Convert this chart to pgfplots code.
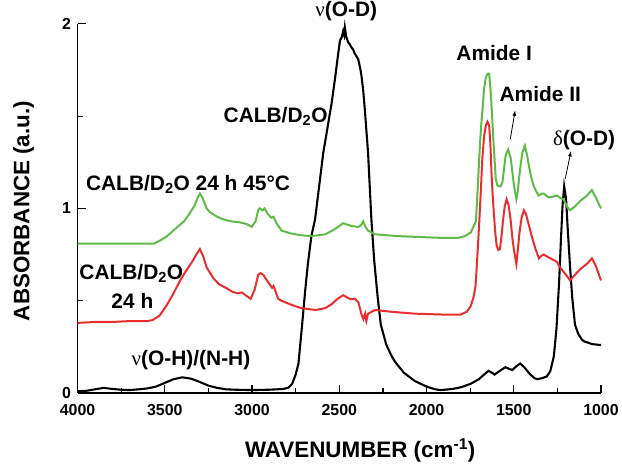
\documentclass[border=0pt]{standalone}
\usepackage{pgfplots}
\pgfplotsset{compat=1.18}
\usepackage{fontspec}
\setmainfont{Liberation Sans}
\newfontfamily\greek{Liberation Serif}
\definecolor{cgreen}{RGB}{96,186,72}
\definecolor{cred}{RGB}{236,45,45}
\begin{document}
\begin{tikzpicture}
\begin{axis}[
  scale only axis, width=526pt, height=371pt,
  x dir=reverse, xmin=1000, xmax=4000, ymin=0, ymax=2,
  axis lines*=left, clip=false,
  axis line style={line width=1.6pt},
  tick align=inside,
  major tick length=8pt, minor tick length=5pt,
  every tick/.style={line width=1.2pt, black},
  xtick={1000,1500,2000,2500,3000,3500,4000},
  minor xtick={1250,1750,2250,2750,3250,3750},
  ytick={0,1,2}, minor ytick={0.5,1.5},
  /pgf/number format/assume math mode=true,
  /pgf/number format/set thousands separator={},
  every tick label/.append style={font=\bfseries\fontsize{16}{16}\selectfont},
  every x tick label/.append style={yshift=-8pt},
  every y tick label/.append style={xshift=-3pt},
  xlabel={WAVENUMBER (cm\textsuperscript{-1})},
  ylabel={ABSORBANCE (a.u.)},
  label style={font=\bfseries\fontsize{22.5}{22.5}\selectfont},
  xlabel style={at={(axis description cs:0.54,-0.155)}, anchor=center},
  ylabel style={at={(axis description cs:-0.103,0.493)}, anchor=center},
]
\addplot[black, line width=2.1pt] coordinates {
(4000,0.01)(3950,0.012)(3900,0.02)(3850,0.028)(3800,0.022)(3750,0.018)(3700,0.016)(3650,0.02)(3600,0.025)(3550,0.035)(3500,0.055)(3450,0.075)(3400,0.085)(3350,0.078)(3300,0.06)(3250,0.04)(3200,0.028)(3150,0.02)(3100,0.018)(3000,0.016)(2900,0.018)(2820,0.022)(2790,0.03)(2770,0.05)(2750,0.1)(2734,0.16)(2715,0.35)(2696,0.55)(2680,0.70)(2660,0.85)(2639,0.94)(2592,1.30)(2544,1.57)(2525,1.70)(2506,1.84)(2496,1.91)(2485,1.93)(2478,1.96)(2472,1.94)(2468,1.98)(2460,1.93)(2449,1.90)(2440,1.89)(2435,1.88)(2428,1.87)(2420,1.86)(2412,1.84)(2405,1.83)(2392,1.81)(2380,1.76)(2373,1.72)(2363,1.64)(2354,1.54)(2335,1.30)(2316,0.94)(2300,0.72)(2280,0.52)(2262,0.37)(2230,0.26)(2200,0.20)(2181,0.17)(2130,0.11)(2067,0.065)(2000,0.035)(1950,0.02)(1918,0.016)(1850,0.022)(1800,0.032)(1747,0.05)(1700,0.075)(1670,0.10)(1645,0.12)(1625,0.11)(1610,0.10)(1580,0.12)(1548,0.14)(1525,0.13)(1508,0.125)(1485,0.145)(1463,0.16)(1440,0.14)(1405,0.10)(1380,0.08)(1365,0.075)(1340,0.08)(1310,0.09)(1290,0.12)(1270,0.2)(1255,0.35)(1240,0.6)(1230,0.82)(1220,1.02)(1211,1.12)(1200,1.05)(1190,0.88)(1177,0.68)(1165,0.52)(1149,0.37)(1130,0.32)(1110,0.29)(1097,0.28)(1050,0.265)(1000,0.26)
};
\addplot[cred, line width=2pt] coordinates {
(4000,0.38)(3900,0.385)(3800,0.385)(3700,0.39)(3600,0.39)(3570,0.395)(3530,0.42)(3493,0.47)(3450,0.54)(3418,0.60)(3380,0.66)(3344,0.71)(3320,0.75)(3299,0.78)(3280,0.74)(3260,0.68)(3247,0.66)(3220,0.62)(3190,0.59)(3150,0.57)(3116,0.55)(3085,0.54)(3058,0.545)(3030,0.525)(3008,0.51)(2985,0.56)(2965,0.64)(2951,0.65)(2935,0.64)(2922,0.62)(2900,0.59)(2885,0.57)(2877,0.58)(2865,0.55)(2850,0.51)(2831,0.50)(2780,0.48)(2720,0.46)(2637,0.45)(2580,0.46)(2546,0.48)(2510,0.51)(2478,0.53)(2440,0.51)(2409,0.51)(2390,0.49)(2374,0.43)(2362,0.40)(2352,0.43)(2345,0.39)(2335,0.43)(2315,0.44)(2295,0.45)(2200,0.44)(2067,0.43)(1900,0.425)(1805,0.425)(1770,0.44)(1747,0.47)(1730,0.52)(1719,0.58)(1708,0.75)(1698,0.92)(1689,1.09)(1680,1.27)(1670,1.39)(1660,1.45)(1651,1.47)(1641,1.45)(1634,1.35)(1627,1.18)(1620,1.06)(1613,0.96)(1605,0.86)(1598,0.80)(1588,0.775)(1579,0.78)(1570,0.85)(1562,0.93)(1552,1.01)(1541,1.05)(1530,1.02)(1518,0.94)(1508,0.84)(1498,0.77)(1485,0.70)(1476,0.78)(1467,0.87)(1455,0.95)(1442,0.99)(1430,0.97)(1419,0.93)(1405,0.88)(1394,0.84)(1375,0.78)(1356,0.73)(1340,0.745)(1328,0.75)(1310,0.74)(1290,0.73)(1252,0.71)(1234,0.68)(1200,0.64)(1177,0.61)(1150,0.64)(1120,0.67)(1080,0.70)(1052,0.73)(1030,0.69)(1000,0.61)
};
\addplot[cgreen, line width=2pt] coordinates {
(4000,0.81)(3900,0.81)(3800,0.81)(3700,0.81)(3600,0.81)(3561,0.81)(3520,0.83)(3487,0.85)(3440,0.89)(3390,0.93)(3360,0.97)(3333,1.01)(3315,1.05)(3299,1.08)(3285,1.06)(3260,1.00)(3242,0.98)(3200,0.955)(3162,0.94)(3120,0.93)(3070,0.925)(3030,0.915)(3002,0.90)(2980,0.93)(2965,0.99)(2956,1.00)(2940,0.99)(2928,1.00)(2910,0.97)(2890,0.95)(2877,0.955)(2860,0.92)(2831,0.88)(2780,0.865)(2720,0.855)(2660,0.85)(2580,0.86)(2530,0.885)(2478,0.92)(2430,0.905)(2392,0.90)(2375,0.91)(2363,0.93)(2350,0.90)(2335,0.88)(2295,0.86)(2164,0.85)(1900,0.84)(1822,0.84)(1780,0.85)(1746,0.87)(1717,0.93)(1708,1.08)(1698,1.27)(1689,1.42)(1679,1.54)(1670,1.65)(1660,1.71)(1650,1.73)(1641,1.73)(1632,1.63)(1624,1.50)(1616,1.36)(1609,1.25)(1603,1.16)(1594,1.125)(1584,1.12)(1575,1.12)(1565,1.14)(1555,1.22)(1546,1.29)(1532,1.32)(1517,1.27)(1507,1.19)(1498,1.12)(1485,1.05)(1477,1.09)(1470,1.16)(1460,1.24)(1451,1.30)(1436,1.34)(1424,1.29)(1413,1.23)(1400,1.17)(1385,1.12)(1370,1.09)(1356,1.07)(1340,1.08)(1328,1.08)(1300,1.06)(1270,1.065)(1252,1.07)(1230,1.055)(1214,1.05)(1195,1.01)(1177,0.99)(1150,1.01)(1120,1.04)(1080,1.07)(1052,1.10)(1030,1.06)(1000,1.00)
};
\begin{scope}[every node/.style={font=\bfseries\fontsize{21}{21}\selectfont, inner sep=0pt}]
\node at (axis cs:2460,2.07) {{\greek\mdseries ν}(O-D)};
\node at (axis cs:2865,1.50) {CALB/D\textsubscript{2}O};
\node at (axis cs:3367,1.13) {CALB/D\textsubscript{2}O 24 h 45°C};
\node at (axis cs:3692,0.65) {CALB/D\textsubscript{2}O};
\node at (axis cs:3686,0.50) {24 h};
\node at (axis cs:3350,0.18) {{\greek\mdseries ν}(O-H)/(N-H)};
\node at (axis cs:1612,1.84) {Amide I};
\node at (axis cs:1348,1.62) {Amide II};
\node at (axis cs:1097,1.37) {{\greek\mdseries δ}(O-D)};
\end{scope}
\draw[-latex, line width=0.8pt] (axis cs:1520,1.375) -- (axis cs:1492,1.53);
\draw[-latex, line width=0.8pt] (axis cs:1205,1.16) -- (axis cs:1172,1.31);
\end{axis}
\path (current axis.south west) ++(-78pt,-65pt) rectangle ++(622pt,460pt);
\end{tikzpicture}
\end{document}
